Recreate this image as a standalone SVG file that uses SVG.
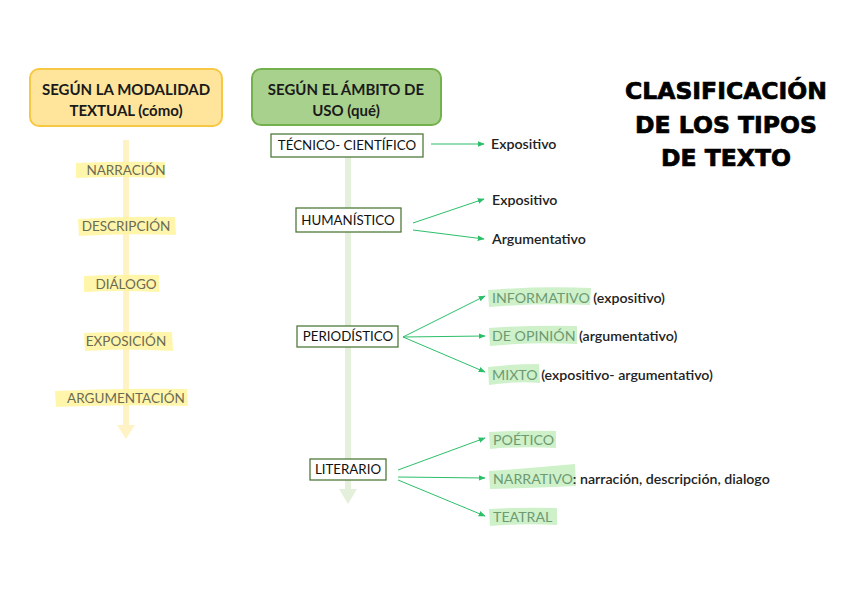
<svg xmlns="http://www.w3.org/2000/svg" width="848" height="599" viewBox="0 0 848 599">
<defs>
<style>
.t{font-family:Lato,"Liberation Sans",sans-serif;}
.hdr{font-size:15px;font-weight:bold;fill:#1a1a1a;text-anchor:middle;}
.yl{font-size:13.5px;fill:#6b6b55;text-anchor:middle;}
.box{fill:#fff;stroke:#4f7a3a;stroke-width:1.3;}
.bl{font-size:13.3px;fill:#111;text-anchor:middle;}
.dk{font-size:14.2px;font-weight:600;fill:#222;}
.gt{fill:#6d9a72;font-weight:normal;}
.yh{fill:#fff59d;opacity:0.85;}
.gh{fill:#c9f0c4;opacity:0.9;}
.con{stroke:#2cbf6a;stroke-width:1;fill:none;marker-end:url(#ah);}
.title{font-family:"DejaVu Sans","Liberation Sans",sans-serif;font-weight:bold;font-size:23.5px;fill:#000;stroke:#000;stroke-width:0.7;text-anchor:middle;}
</style>
<marker id="ah" viewBox="0 0 10 10" refX="9" refY="5" markerWidth="7" markerHeight="7" markerUnits="userSpaceOnUse" orient="auto">
<path d="M0,1 L10,5 L0,9 z" fill="#2cbf6a"/>
</marker>
</defs>
<rect width="848" height="599" fill="#fff"/>

<!-- title -->
<g id="title">
<text class="title" x="726" y="99">CLASIFICACIÓN</text>
<text class="title" x="726" y="133">DE LOS TIPOS</text>
<text class="title" x="726" y="166">DE TEXTO</text>
</g>

<!-- spine arrows -->
<g id="spines">
<rect x="123" y="140" width="6" height="287" fill="#fff2c4"/>
<path d="M117,425 L135,425 L126,439 z" fill="#fff2c4"/>
<rect x="345" y="155" width="6" height="336" fill="#e4f0dc"/>
<path d="M339,489 L357,489 L348,504 z" fill="#e4f0dc"/>
</g>

<!-- header nodes -->
<g id="node-modalidad">
<rect x="30" y="69" width="192" height="57" rx="9" fill="#ffe59b" stroke="#f7c843" stroke-width="2"/>
<text class="t hdr" x="126" y="95">SEGÚN LA MODALIDAD</text>
<text class="t hdr" x="126" y="116">TEXTUAL (cómo)</text>
</g>
<g id="node-ambito">
<rect x="252" y="69" width="189" height="56" rx="9" fill="#a9d18e" stroke="#75b04e" stroke-width="2"/>
<text class="t hdr" x="346" y="95">SEGÚN EL ÁMBITO DE</text>
<text class="t hdr" x="346" y="116">USO (qué)</text>
</g>

<!-- left column -->
<g id="node-narracion">
<path class="yh" d="M76,163 Q120,161 165,162 L165,178 Q120,176 76,178 z"/>
<text class="t yl" x="126" y="175">NARRACIÓN</text>
</g>
<g id="node-descripcion">
<path class="yh" d="M78,219 Q125,216 175,217 L176,235 Q125,233 79,236 z"/>
<text class="t yl" x="126" y="231">DESCRIPCIÓN</text>
</g>
<g id="node-dialogo">
<path class="yh" d="M84,276 Q120,274 159,275 L159,292 Q120,290 84,292 z"/>
<text class="t yl" x="126" y="289">DIÁLOGO</text>
</g>
<g id="node-exposicion">
<path class="yh" d="M84,333 Q128,331 172,332 L173,351 Q128,348 85,351 z"/>
<text class="t yl" x="126" y="346">EXPOSICIÓN</text>
</g>
<g id="node-argumentacion">
<path class="yh" d="M55,391 Q120,388 187,389 L188,406 Q120,404 56,407 z"/>
<text class="t yl" x="126" y="403">ARGUMENTACIÓN</text>
</g>

<!-- right column boxes -->
<g id="node-tecnico">
<rect class="box" x="271" y="134" width="152" height="23"/>
<text class="t bl" x="347" y="150">TÉCNICO- CIENTÍFICO</text>
</g>
<g id="node-humanistico">
<rect class="box" x="296" y="208" width="105" height="24"/>
<text class="t bl" x="348" y="225">HUMANÍSTICO</text>
</g>
<g id="node-periodistico">
<rect class="box" x="297" y="326" width="101" height="21"/>
<text class="t bl" x="348" y="341">PERIODÍSTICO</text>
</g>
<g id="node-literario">
<rect class="box" x="310" y="459" width="76" height="21"/>
<text class="t bl" x="348" y="474">LITERARIO</text>
</g>

<!-- connectors -->
<g id="connectors">
<line class="con" x1="431" y1="144" x2="484" y2="144"/>
<line class="con" x1="413" y1="223" x2="484" y2="199"/>
<line class="con" x1="413" y1="230" x2="484" y2="239"/>
<line class="con" x1="403" y1="337" x2="485" y2="296"/>
<line class="con" x1="403" y1="337" x2="485" y2="336"/>
<line class="con" x1="403" y1="337" x2="485" y2="372"/>
<line class="con" x1="398" y1="470" x2="485" y2="438"/>
<line class="con" x1="398" y1="477" x2="485" y2="478"/>
<line class="con" x1="398" y1="480" x2="485" y2="516"/>
</g>

<!-- leaf labels -->
<g id="leaf-tec-expositivo"><text class="t dk" x="491" y="149">Expositivo</text></g>
<g id="leaf-hum-expositivo"><text class="t dk" x="492" y="205">Expositivo</text></g>
<g id="leaf-hum-argumentativo"><text class="t dk" x="492" y="244">Argumentativo</text></g>

<g id="leaf-informativo">
<path class="gh" d="M488,290 Q538,286 591,288 L590,305 Q538,303 489,307 z"/>
<text class="t dk" x="492" y="303"><tspan class="gt">INFORMATIVO</tspan> (expositivo)</text>
</g>
<g id="leaf-opinion">
<path class="gh" d="M489,328 Q532,325 577,326 L577,344 Q532,342 490,346 z"/>
<text class="t dk" x="492" y="341"><tspan class="gt">DE OPINIÓN</tspan> (argumentativo)</text>
</g>
<g id="leaf-mixto">
<path class="gh" d="M488,367 Q513,364 539,364 L540,383 Q513,381 489,385 z"/>
<text class="t dk" x="492" y="380"><tspan class="gt">MIXTO</tspan> (expositivo- argumentativo)</text>
</g>
<g id="leaf-poetico">
<path class="gh" d="M489,432 Q522,430 556,431 L556,448 Q522,446 490,449 z"/>
<text class="t dk" x="493" y="445"><tspan class="gt">POÉTICO</tspan></text>
</g>
<g id="leaf-narrativo">
<path class="gh" d="M489,471 Q532,468 575,464 L576,486 Q532,488 490,489 z"/>
<text class="t dk" x="493" y="484"><tspan class="gt">NARRATIVO</tspan>: narración, descripción, dialogo</text>
</g>
<g id="leaf-teatral">
<path class="gh" d="M489,509 Q523,507 557,508 L557,525 Q523,523 490,526 z"/>
<text class="t dk" x="493" y="522"><tspan class="gt">TEATRAL</tspan></text>
</g>
</svg>
